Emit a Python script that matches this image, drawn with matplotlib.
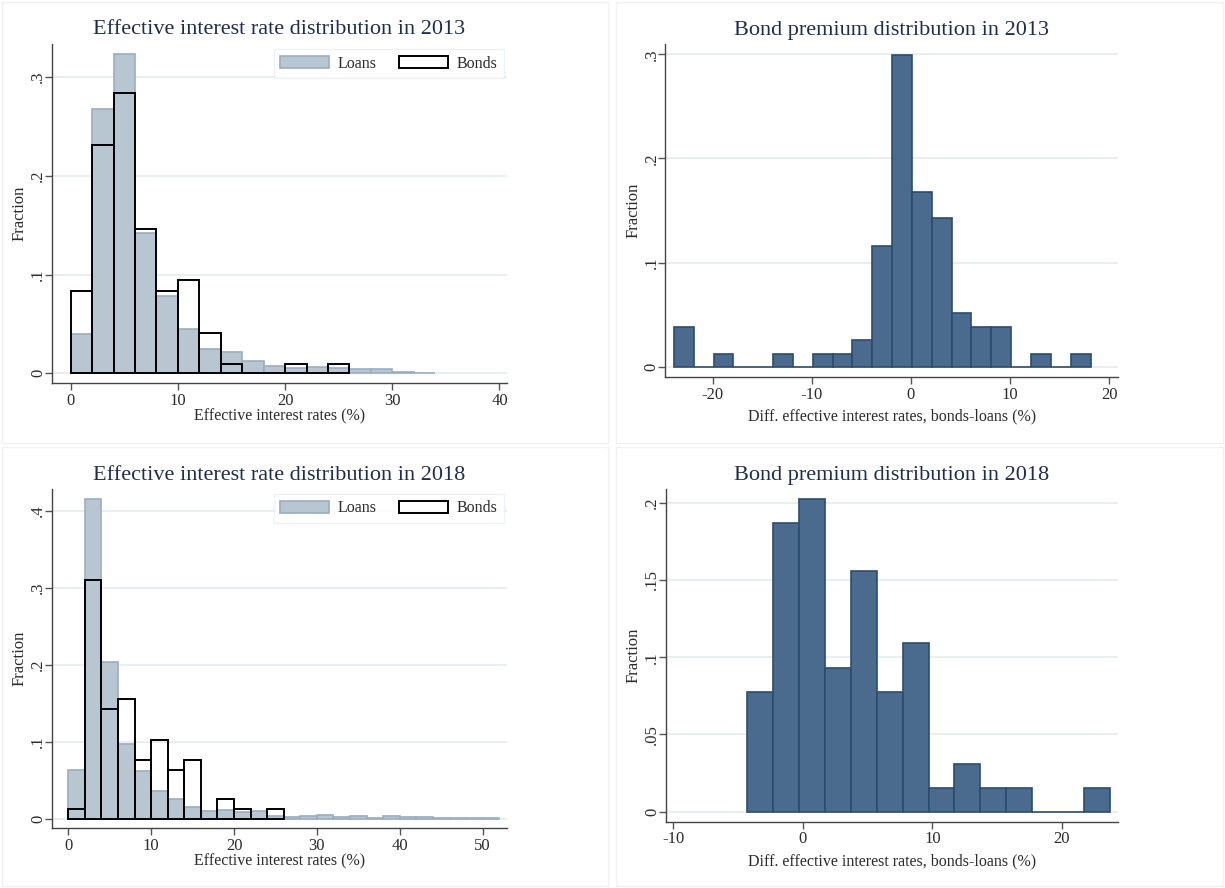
import matplotlib.pyplot as plt
from matplotlib.patches import Rectangle
from matplotlib.ticker import FuncFormatter

# ---- data (fractions per bin, bin width 2) ----
loans_2013 = [0.040, 0.268, 0.323, 0.142, 0.078, 0.0445, 0.025, 0.0216, 0.0125,
              0.0078, 0.005, 0.0064, 0.0057, 0.004, 0.0047, 0.0017, 0.0005]
bonds_2013 = [0.083, 0.231, 0.2835, 0.1465, 0.083, 0.094, 0.041, 0.0091, 0.0,
              0.0, 0.0094, 0.0, 0.0094]
loans_2018 = [0.0628, 0.416, 0.2037, 0.097, 0.0615, 0.0364, 0.0251, 0.0147, 0.0095,
              0.0113, 0.0082, 0.0095, 0.003, 0.002, 0.004, 0.005, 0.0026, 0.004,
              0.001, 0.0035, 0.0017, 0.0017, 0.0005, 0.001, 0.0005, 0.001]
bonds_2018 = [0.0121, 0.310, 0.142, 0.155, 0.0767, 0.1027, 0.0637, 0.0767, 0.0,
              0.0251, 0.0121, 0.0, 0.0121]
premium_2013 = [0.038, 0.0, 0.0125, 0.0, 0.0, 0.0125, 0.0, 0.0125, 0.0125, 0.0253,
                0.116, 0.299, 0.168, 0.1425, 0.0512, 0.038, 0.038, 0.0, 0.0125,
                0.0, 0.0125]
premium_2018 = [0.0777, 0.187, 0.2026, 0.0932, 0.1556, 0.0777, 0.109, 0.0153,
                0.0309, 0.0153, 0.0153, 0.0, 0.0, 0.0153]
rate_start = 0.0
prem13_start = -23.9
prem18_start = -4.3
bin_w = 2.0

LOAN_FC = "#b8c6d2"
LOAN_EC = "#9aadbf"
PREM_FC = "#4a6b8d"
PREM_EC = "#2d4c6f"
GRID = "#e8eff1"
TITLE_C = "#1f2d4d"
TEXT_C = "#2b2b2b"

plt.rcParams["font.family"] = ["Liberation Serif", "DejaVu Serif"]
plt.rcParams["axes.unicode_minus"] = False

W, H = 1225, 888
fig = plt.figure(figsize=(W / 100, H / 100), dpi=100)


def add_ax(x0, y0, x1, y1):
    return fig.add_axes([x0 / W, 1 - y1 / H, (x1 - x0) / W, (y1 - y0) / H])


def frac_fmt(v, pos):
    if abs(v) < 1e-9:
        return "0"
    s = f"{v:g}"
    return s.replace("0.", ".")


def style(ax, xlim, ylim, xticks, yticks, xlabel, title, title_y, xlabel_y, ylabel_x):
    ax.set_xlim(*xlim)
    ax.set_ylim(*ylim)
    ax.set_xticks(xticks)
    ax.set_yticks(yticks)
    ax.yaxis.set_major_formatter(FuncFormatter(frac_fmt))
    for s in ["top", "right"]:
        ax.spines[s].set_visible(False)
    for s in ["left", "bottom"]:
        ax.spines[s].set_color("#444444")
        ax.spines[s].set_linewidth(1.0)
    ax.tick_params(axis="both", direction="out", length=5, width=1,
                   color="#555555", labelsize=12, labelcolor=TEXT_C)
    ax.tick_params(axis="x", pad=2)
    ax.tick_params(axis="y", pad=-1)
    for lab in ax.get_yticklabels():
        lab.set_rotation(90)
        lab.set_va("center")
    ax.grid(axis="y", color=GRID, linewidth=1.4)
    ax.set_axisbelow(True)
    bb = ax.get_position()
    cx = (bb.x0 + bb.x1) / 2
    cy = (bb.y0 + bb.y1) / 2
    fig.text(cx, 1 - title_y / H, title, ha="center", va="center",
             fontsize=16, color=TITLE_C)
    fig.text(cx, 1 - xlabel_y / H, xlabel, ha="center", va="center",
             fontsize=11.5, color=TEXT_C)
    fig.text(ylabel_x / W, cy, "Fraction", rotation=90, ha="center", va="center",
             fontsize=12, color=TEXT_C)


def edges(start, n):
    return [start + bin_w * i for i in range(n)]


def rate_panel(ax, loans, bonds):
    ax.bar(edges(rate_start, len(loans)), loans, width=bin_w, align="edge",
           color=LOAN_FC, edgecolor=LOAN_EC, linewidth=1.2, label="Loans", zorder=2)
    ax.bar(edges(rate_start, len(bonds)), bonds, width=bin_w, align="edge",
           facecolor="none", edgecolor="black", linewidth=1.4, label="Bonds", zorder=3)
    leg = ax.legend(ncol=2, loc="upper right", bbox_to_anchor=(0.993, 0.985),
                    fontsize=11.5, frameon=True, fancybox=False,
                    handlelength=3.05, handleheight=0.8, columnspacing=1.4,
                    borderpad=0.4, handletextpad=0.56, borderaxespad=0.0)
    leg.get_frame().set_edgecolor("#e6eef2")
    leg.get_frame().set_linewidth(1.0)
    for t in leg.get_texts():
        t.set_color(TEXT_C)


def prem_panel(ax, vals, start):
    ax.bar(edges(start, len(vals)), vals, width=bin_w, align="edge",
           color=PREM_FC, edgecolor=PREM_EC, linewidth=1.2, zorder=2)


# panel 1
ax1 = add_ax(51.7, 44.3, 507.3, 383.3)
rate_panel(ax1, loans_2013, bonds_2013)
style(ax1, (-1.77, 40.73), (-0.0101, 0.333), [0, 10, 20, 30, 40], [0, 0.1, 0.2, 0.3],
      "Effective interest rates (%)", "Effective interest rate distribution in 2013",
      30, 416, 20)

# panel 2
ax2 = add_ax(665, 44.3, 1118.3, 377.3)
prem_panel(ax2, premium_2013, prem13_start)
style(ax2, (-24.8, 20.9), (-0.0102, 0.3097), [-20, -10, 0, 10, 20], [0, 0.1, 0.2, 0.3],
      "Diff. effective interest rates, bonds-loans (%)", "Bond premium distribution in 2013",
      30, 416, 634)

# panel 3
ax3 = add_ax(51.7, 489, 507.3, 828.3)
rate_panel(ax3, loans_2018, bonds_2018)
style(ax3, (-2.0, 52.97), (-0.0125, 0.4286), [0, 10, 20, 30, 40, 50],
      [0, 0.1, 0.2, 0.3, 0.4],
      "Effective interest rates (%)", "Effective interest rate distribution in 2018",
      475, 861, 20)

# panel 4
ax4 = add_ax(665.7, 489, 1118.3, 821.7)
prem_panel(ax4, premium_2018, prem18_start)
style(ax4, (-10.6, 24.35), (-0.0065, 0.2089), [-10, 0, 10, 20],
      [0, 0.05, 0.1, 0.15, 0.2],
      "Diff. effective interest rates, bonds-loans (%)", "Bond premium distribution in 2018",
      475, 861, 634)

# faint panel borders
for (x0, y0, x1, y1) in [(2, 2, 608, 443), (616, 2, 1223, 443),
                         (2, 447, 608, 886), (616, 447, 1223, 886)]:
    fig.patches.append(Rectangle((x0 / W, 1 - y1 / H), (x1 - x0) / W, (y1 - y0) / H,
                                 transform=fig.transFigure, fill=False,
                                 edgecolor="#f1f1f1", linewidth=1.0))

fig.savefig("out.png", dpi=100, facecolor="white")
